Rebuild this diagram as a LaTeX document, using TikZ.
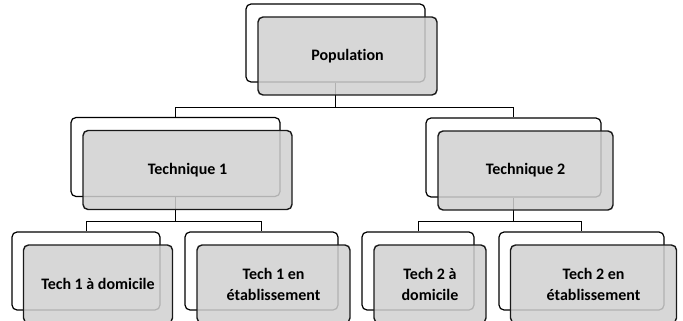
\documentclass[tikz,border=0pt]{standalone}
\usepackage{fontspec}
\setmainfont[Ligatures=NoCommon]{Carlito}
\usepackage{xcolor}
\definecolor{boxgray}{RGB}{208, 208, 208}
\usepackage{tikz}

\begin{document}
\begin{tikzpicture}[
    x=1pt, y=-1pt,
    every text node part/.style={align=center},
    backbox/.style={draw=black, line width=1.2pt, rounded corners=5pt, fill=white, inner sep=0pt},
    frontbox/.style={draw=black!90, line width=1.4pt, rounded corners=5pt, fill=boxgray, fill opacity=0.85, text opacity=1, inner sep=2pt, font=\fontsize{16}{21}\selectfont\bfseries},
    link/.style={draw=black, line width=1pt}
]

\useasboundingbox (0,0) rectangle (683,321);

% ==================== BACK BOXES ====================
\foreach \n/\x/\y/\w/\h in {
    pop/335.5/43/179/78,
    tA/175.5/157/209/79,
    tB/513.5/157.5/175/79,
    lA/86/271/148/78,
    lB/261.5/271/153/78,
    lC/418/271/112/78,
    lD/581.5/271/165/78
} {
    \node[backbox, minimum width=\w pt, minimum height=\h pt] (\n b) at (\x, \y) {};
}

% ==================== CONNECTORS ====================
\draw[link] (popb.south) -- ++(0,25) -| (tAb.north);
\draw[link] (popb.south) -- ++(0,25) -| (tBb.north);
\draw[link] (tAb.south) -- ++(0,24) -| (lAb.north);
\draw[link] (tAb.south) -- ++(0,24) -| (lBb.north);
\draw[link] (tBb.south) -- ++(0,24) -| (lCb.north);
\draw[link] (tBb.south) -- ++(0,24) -| (lDb.north);

% ==================== FRONT BOXES ====================
\node[frontbox, minimum width=179pt, minimum height=78pt] (pop) at (347.5, 56) {Population};
\node[frontbox, minimum width=209pt, minimum height=79pt] (tA) at (187.5, 170) {Technique 1};
\node[frontbox, minimum width=175pt, minimum height=79pt] (tB) at (525.5, 170.5) {Technique 2};
\node[frontbox, minimum width=149pt, minimum height=78pt] (lA) at (98, 284) {Tech 1 à domicile};
\node[frontbox, minimum width=153pt, minimum height=78pt] (lB) at (273.5, 284) {Tech 1 en\\établissement};
\node[frontbox, minimum width=112pt, minimum height=78pt] (lC) at (430, 284) {Tech 2 à\\domicile};
\node[frontbox, minimum width=166pt, minimum height=78pt] (lD) at (593.5, 284) {Tech 2 en\\établissement};

\end{tikzpicture}
\end{document}
